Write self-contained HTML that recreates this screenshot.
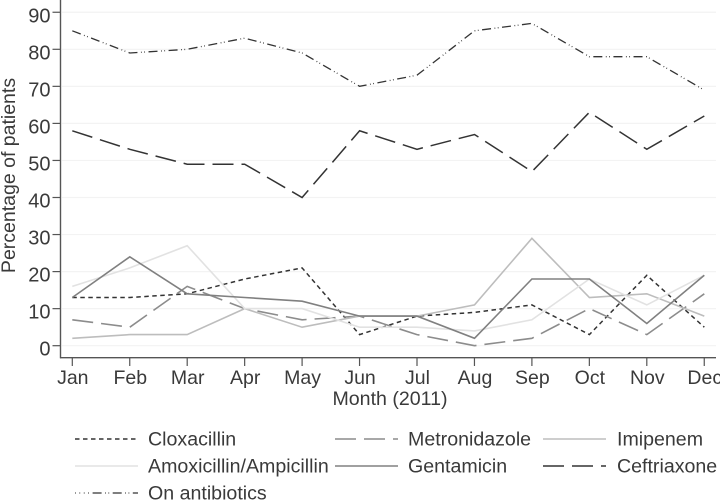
<!DOCTYPE html>
<html lang="en">
<head>
<meta charset="utf-8">
<title>Antibiotic use by month</title>
<style>
html,body{margin:0;padding:0;background:#fff;width:720px;height:500px;overflow:hidden}
svg{display:block;font-family:"Liberation Sans",sans-serif;fill:#3a3a3a;filter:blur(0.3px)}
</style>
</head>
<body>
<svg id="chart" width="720" height="500" viewBox="0 0 720 500" xmlns="http://www.w3.org/2000/svg">
<g id="grid"></g>
<g id="axes"></g>
<g id="series"></g>
<g id="legend"></g>
</svg>
<script>
const months = ['Jan','Feb','Mar','Apr','May','Jun','Jul','Aug','Sep','Oct','Nov','Dec'];
const yTicks = [0,10,20,30,40,50,60,70,80,90];
const cloxacillin = [13,13,14,18,21,3,8,9,11,3,19,5];
const metronidazole = [7,5,16,10,7,8,3,0,2,10,3,14];
const imipenem = [2,3,3,10,5,8,8,11,29,13,14,8];
const amoxicillin = [16,21,27,10,10,5,5,4,7,18,11,19];
const gentamicin = [13,24,14,13,12,8,8,2,18,18,6,19];
const ceftriaxone = [58,53,49,49,40,58,53,57,47,63,53,62];
const onAntibiotics = [85,79,80,83,79,70,73,85,87,78,78,69];

const NS = 'http://www.w3.org/2000/svg';
const xScale = i => 72.3 + i * 57.45;
const yScale = v => 345.7 - v * 3.705;
function make(tag, attrs, parent, text) {
  const el = document.createElementNS(NS, tag);
  for (const k in attrs) el.setAttribute(k, attrs[k]);
  if (text !== undefined) el.textContent = text;
  parent.appendChild(el);
  return el;
}
const grid = document.getElementById('grid');
const axes = document.getElementById('axes');
const seriesG = document.getElementById('series');
const legend = document.getElementById('legend');

yTicks.forEach(t => {
  const y = yScale(t);
  const g = make('line', {x1:62, x2:716, y1:y, y2:y, stroke:'#f3f3f3', 'stroke-width':1.2}, grid);
  
  
  const tk = make('line', {x1:52.5, x2:60.5, y1:y, y2:y, stroke:'#555', 'stroke-width':1.2}, axes);
  
  
  const lb = make('text', {x:50.5, y:y+10, 'text-anchor':'end', 'font-size':20}, axes, String(t));
  
  
});
months.forEach((m, i) => {
  const x = xScale(i);
  const tk = make('line', {x1:x, x2:x, y1:357.7, y2:366, stroke:'#555', 'stroke-width':1.2}, axes);
  
  
  const lb = make('text', {x:x+0.5, y:384, 'text-anchor':'middle', 'font-size':19.5}, axes, m);
  
  
});
const yAxis = make('line', {x1:60.5, x2:60.5, y1:0, y2:358.3, stroke:'#555', 'stroke-width':1.4}, axes);


const xAxis = make('line', {x1:60, x2:716, y1:357.7, y2:357.7, stroke:'#555', 'stroke-width':1.4}, axes);


const xTitle = make('text', {x:390, y:405, 'text-anchor':'middle', 'font-size':19.6}, axes, 'Month (2011)');


const yTitle = make('text', {x:0, y:0, transform:'translate(15,175.5) rotate(-90)', 'text-anchor':'middle', 'font-size':19.5}, axes, 'Percentage of patients');



const entries = [
  {label:'Cloxacillin', values:cloxacillin, color:'#333', dash:'4.5 3.5', keyDash:'4.5 3.5', w:1.5, kx:75, tx:148, ly:439},
  {label:'Metronidazole', values:metronidazole, color:'#8c8c8c', dash:'21 8', keyDash:'21 8', w:1.6, kx:335, tx:408, ly:439},
  {label:'Imipenem', values:imipenem, color:'#bdbdbd', dash:'', keyDash:'', w:1.6, kx:543, tx:617, ly:439},
  {label:'Amoxicillin/Ampicillin', values:amoxicillin, color:'#e2e2e2', dash:'', keyDash:'', w:1.6, kx:75, tx:148, ly:466},
  {label:'Gentamicin', values:gentamicin, color:'#808080', dash:'', keyDash:'', w:1.6, kx:335, tx:408, ly:466},
  {label:'Ceftriaxone', values:ceftriaxone, color:'#333', dash:'21 8', keyDash:'21 8', w:1.5, kx:543, tx:617, ly:466},
  {label:'On antibiotics', values:onAntibiotics, color:'#333', dash:'9 3.5 0.8 2.5 0.8 3.5', keyDash:'0.8 3.6 0.8 3.6 0.8 3.6 0.8 3.6 9 3.5 0.8 2.5 0.8 3.5 9 3.5 0.8 2.5 0.8 3.5 9', w:1.3, kx:75, tx:148, ly:493}
];
entries.forEach(e => {
  const pts = e.values.map((v, i) => xScale(i).toFixed(1) + ',' + yScale(v).toFixed(1)).join(' ');
  const line = make('polyline', {points:pts, fill:'none', stroke:e.color, 'stroke-width':e.w, 'stroke-dasharray':e.dash, 'stroke-linejoin':'miter'}, seriesG);
  
  
  const key = make('line', {x1:e.kx, x2:e.kx+63, y1:e.ly, y2:e.ly, stroke:e.color, 'stroke-width':e.w, 'stroke-dasharray':e.keyDash}, legend);
  
  
  const txt = make('text', {x:e.tx, y:e.ly+6.5, 'font-size':19.6}, legend, e.label);
  
  
});
</script>
</body>
</html>
